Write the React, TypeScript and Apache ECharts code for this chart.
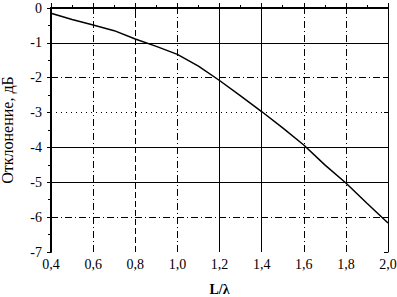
import React, { useEffect, useRef } from "react";
import * as echarts from "echarts";

const xValues = [0.4, 0.5, 0.6, 0.7, 0.8, 0.9, 1.0, 1.1, 1.2, 1.3, 1.4, 1.5, 1.6, 1.7, 1.8, 1.9, 2.0];
const yValues = [-0.15, -0.33, -0.49, -0.65, -0.89, -1.1, -1.33, -1.67, -2.08, -2.52, -2.97, -3.44, -3.93, -4.5, -5.02, -5.6, -6.17];

const hGridValues = [-1, -2, -3, -4, -5, -6];
const hGridTypes = ["solid", "dashdot", "dotted", "solid", "solid", "dashdot"];
const vGridValues = [0.6, 0.8, 1.0, 1.2, 1.4, 1.6, 1.8];
const vGridTypes = ["dashdot", "dashed", "dashdot", "solid", "solid", "dashdot", "dashdot"];

const yAxisTitle = "Отклонение, дБ";
const xAxisTitle = "L/λ";

const dashOf = (t: string): any => {
  if (t === "dashdot") return [7, 3, 1, 3];
  if (t === "dashed") return [6, 3];
  if (t === "dotted") return [1, 4];
  return "solid";
};

export default function App() {
  const ref = useRef<HTMLDivElement>(null);
  useEffect(() => {
    if (!ref.current) return;
    const chart = echarts.init(ref.current, null, { renderer: "svg" });
    const font = "'Liberation Serif', 'Times New Roman', serif";
    const markData: any[] = [];
    hGridValues.forEach((v, i) =>
      markData.push({ yAxis: v, lineStyle: { type: dashOf(hGridTypes[i]), color: "#000", width: 1 } })
    );
    vGridValues.forEach((v, i) =>
      markData.push({ xAxis: v, lineStyle: { type: dashOf(vGridTypes[i]), color: "#000", width: 1 } })
    );
    const baseX = {
      type: "value",
      min: 0.4,
      max: 2.0,
      interval: 0.2,
      splitLine: { show: false },
    };
    const baseY = {
      type: "value",
      min: -7,
      max: 0,
      interval: 1,
      splitLine: { show: false },
    };
    chart.setOption({
      animation: false,
      backgroundColor: "#fff",
      grid: { left: 51, right: 9, top: 8, bottom: 45, containLabel: false, outerBoundsMode: "none" },
      xAxis: [
        {
          ...baseX,
          position: "bottom",
          name: xAxisTitle,
          nameLocation: "middle",
          nameGap: 30,
          nameTextStyle: { fontFamily: font, fontSize: 14, fontWeight: "bold", color: "#000" },
          axisLine: { show: true, lineStyle: { color: "#000", width: 2 } },
          axisTick: { show: true, inside: true, length: 5, lineStyle: { color: "#000" } },
          minorTick: { show: true, splitNumber: 2, length: 3, lineStyle: { color: "#000" } },
          axisLabel: {
            fontFamily: font,
            fontSize: 14,
            color: "#000",
            margin: 5,
            formatter: (v: number) => v.toFixed(1).replace(".", ","),
          },
        },
        {
          ...baseX,
          position: "top",
          axisLine: { show: true, lineStyle: { color: "#000", width: 1 } },
          axisTick: { show: true, inside: true, length: 4, lineStyle: { color: "#000" } },
          axisLabel: { show: false },
        },
      ],
      yAxis: [
        {
          ...baseY,
          position: "left",
          name: yAxisTitle,
          nameLocation: "middle",
          nameGap: 36,
          nameTextStyle: { fontFamily: font, fontSize: 16, color: "#000" },
          axisLine: { show: true, lineStyle: { color: "#000", width: 2 } },
          axisTick: { show: true, inside: false, length: 4, lineStyle: { color: "#000" } },
          minorTick: { show: true, splitNumber: 2, length: 3, lineStyle: { color: "#000" } },
          axisLabel: { fontFamily: font, fontSize: 14, lineHeight: 14, color: "#000", margin: 9 },
        },
        {
          ...baseY,
          position: "right",
          axisLine: { show: true, lineStyle: { color: "#000", width: 1 } },
          axisTick: { show: true, inside: true, length: 4, lineStyle: { color: "#000" } },
          axisLabel: { show: false },
        },
      ],
      series: [
        {
          type: "line",
          data: xValues.map((x, i) => [x, yValues[i]]),
          showSymbol: false,
          smooth: false,
          lineStyle: { color: "#000", width: 1.5 },
          markLine: {
            silent: true,
            symbol: "none",
            label: { show: false },
            data: markData,
          },
        },
      ],
    });
    return () => chart.dispose();
  }, []);
  return <div ref={ref} style={{ width: 397, height: 297, position: "absolute", left: 0, top: 0 }} />;
}
